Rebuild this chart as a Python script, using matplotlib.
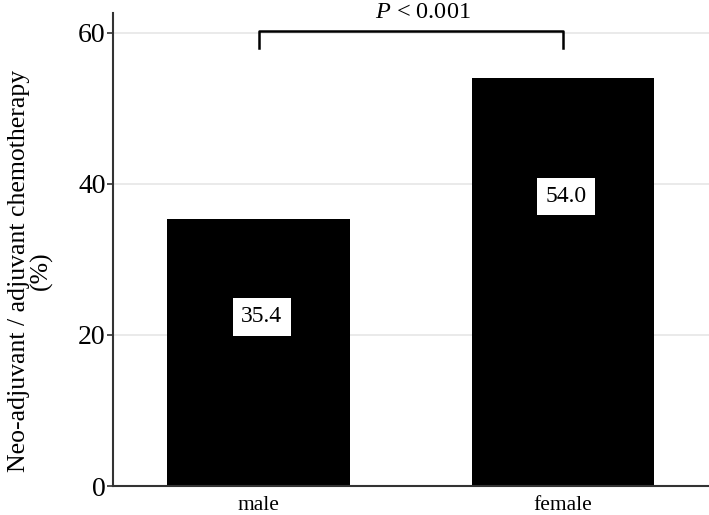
import matplotlib
matplotlib.use('Agg')
import matplotlib.pyplot as plt

groups = ['male', 'female']
values = [35.4, 54.0]
labels = ['35.4', '54.0']
label_y = [22.4, 38.3]
p_text = '$\\mathit{P}$ < 0.001'
yticks = [0, 20, 40, 60]

plt.rcParams['font.family'] = ['Liberation Serif', 'DejaVu Serif']
plt.rcParams['mathtext.fontset'] = 'custom'
plt.rcParams['mathtext.it'] = 'Liberation Serif:italic'

fig = plt.figure(figsize=(7.09, 5.15), dpi=100)
ax = fig.add_axes([0.159, 0.056, 0.841, 0.919])

x = list(range(len(groups)))
ax.bar(x, values, width=0.6, color='black', zorder=2)
for xi, ly, lab in zip(x, label_y, labels):
    ax.text(xi + 0.01, ly, lab, ha='center', va='center', fontsize=17, zorder=3,
            bbox=dict(facecolor='white', edgecolor='none', pad=6))

# significance bracket
ax.plot([x[0], x[0], x[1], x[1]], [57.9, 60.2, 60.2, 57.9], color='black', lw=1.8,
        clip_on=False, zorder=3)
ax.text((x[0] + x[1]) / 2 + 0.04, 62.7, p_text, ha='center', va='center', fontsize=17.5,
        clip_on=False)

ax.set_xlim(-0.48, 1.48)
ax.set_ylim(0, 62.6)
ax.set_yticks(yticks)
ax.set_xticks(x)
ax.set_xticklabels(groups, fontsize=15.5)
ax.tick_params(axis='y', labelsize=20, length=4, width=1.2, color='#333333', pad=1)
ax.tick_params(axis='x', length=0, pad=7)
ax.grid(axis='y', color='#e6e6e6', lw=1.2, zorder=0)
ax.set_axisbelow(True)
for s in ['top', 'right']:
    ax.spines[s].set_visible(False)
for s in ['left', 'bottom']:
    ax.spines[s].set_color('#333333')
    ax.spines[s].set_linewidth(1.5)
ax.set_ylabel('Neo-adjuvant / adjuvant chemotherapy\n(%)', fontsize=18.5, linespacing=1.0)
ax.yaxis.set_label_coords(-0.10, 0.455)

fig.savefig('out.png', dpi=100)
